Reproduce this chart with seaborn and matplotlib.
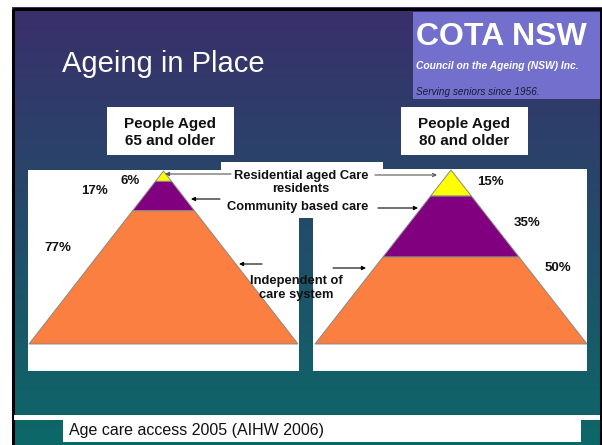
import numpy as np
import seaborn as sns
import matplotlib.pyplot as plt
from matplotlib.patches import Rectangle

# data
tiers = ["Residential aged Care residents", "Community based care", "Independent of care system"]
pct_65 = [6, 17, 77]
pct_80 = [15, 35, 50]
tier_colors = ["#ffff00", "#800080", "#fb7f40"]
group_labels = ["People Aged\n65 and older", "People Aged\n80 and older"]
title = "Ageing in Place"
caption = "Age care access 2005 (AIHW 2006)"

sns.set_theme(style="white")
plt.rcParams["font.family"] = ["Liberation Sans", "DejaVu Sans"]

fig = plt.figure(figsize=(6.02, 4.45), dpi=100)
ax = fig.add_axes([0, 0, 1, 1])
ax.set_xlim(0, 602)
ax.set_ylim(445, 0)
ax.axis("off")

# slide background gradient
top = np.array([58, 47, 107]) / 255
bot = np.array([12, 104, 104]) / 255
t = np.linspace(0, 1, 256)[:, None, None]
grad = top * (1 - t) + bot * t
ax.imshow(grad, extent=[12, 602, 445, 7], aspect="auto", zorder=0)
ax.add_patch(Rectangle((13, 8.5), 588, 440, fill=False, ec="black", lw=2.2, zorder=1))

ax.text(62, 64, title, color="white", fontsize=21, va="center", ha="left", zorder=3)

# COTA box
ax.add_patch(Rectangle((413, 12), 187, 87, fc="#7270cc", ec="none", zorder=2))
ax.text(416, 37, "COTA NSW", color="white", fontsize=23, fontweight="bold",
        va="center", ha="left", zorder=3)
ax.text(416, 66, "Council on the Ageing (NSW) Inc.", color="white", fontsize=7.4,
        fontweight="bold", fontstyle="italic", va="center", ha="left", zorder=3)
ax.text(416, 92, "Serving seniors since 1956.", color="#1a1a33", fontsize=7.2,
        fontstyle="italic", va="center", ha="left", zorder=3)

# panels
ax.add_patch(Rectangle((28, 170), 271, 201, fc="white", ec="none", zorder=2))
ax.add_patch(Rectangle((313, 169), 274, 202, fc="white", ec="none", zorder=2))

# group label boxes
for x0, lab in zip([107, 401], group_labels):
    ax.add_patch(Rectangle((x0, 107), 127, 48, fc="white", ec="none", zorder=2))
    ax.text(x0 + 63.5, 132.5, lab, fontsize=11, fontweight="bold", color="#111111",
            ha="center", va="center", linespacing=1.3, zorder=3)


def pyramid(cx, apex_y, base_y, half_w, pcts):
    h = base_y - apex_y
    cum = np.concatenate([[0], np.cumsum(pcts)]) / 100.0
    for i, c in enumerate(tier_colors):
        y0 = apex_y + h * cum[i]
        y1 = apex_y + h * cum[i + 1]
        w0 = half_w * (y0 - apex_y) / h
        w1 = half_w * (y1 - apex_y) / h
        ax.fill([cx - w0, cx + w0, cx + w1, cx - w1], [y0, y0, y1, y1],
                fc=c, ec="#888888", lw=0.7, zorder=4)


pyramid(163.5, 171, 344, 134.5, pct_65)
pyramid(451, 170, 344, 136, pct_80)

# percentage labels
for (x, y), p in zip([(130, 181), (95, 191), (58, 248)], pct_65):
    ax.text(x, y, f"{p}%", fontsize=9.5, fontweight="bold", color="#111111",
            ha="center", va="center", zorder=5)
for (x, y), p in zip([(490, 182), (527, 223), (558, 268)], pct_80):
    ax.text(x, y, f"{p}%", fontsize=9.5, fontweight="bold", color="#111111",
            ha="center", va="center", zorder=5)

# tier legend box and text
ax.add_patch(Rectangle((221, 162), 162, 56, fc="white", ec="none", zorder=3))
ax.text(301, 182.5, "Residential aged Care\nresidents", fontsize=9.3, fontweight="bold",
        color="#111111", ha="center", va="center", linespacing=1.0, zorder=5)
ax.text(298, 207, tiers[1], fontsize=9.3, fontweight="bold", color="#111111",
        ha="center", va="center", zorder=5)
ax.text(296, 288, "Independent of\ncare system", fontsize=9.3, fontweight="bold",
        color="#111111", ha="center", va="center", linespacing=1.3, zorder=5)

arrows = [((231, 174), (165, 174), "-|>", "#555555"),
          ((375, 175), (437, 175), "->", "#555555"),
          ((220, 199), (191, 199), "-|>", "black"),
          ((378, 208), (418, 208), "-|>", "black"),
          ((262, 264), (239, 264), "-|>", "black"),
          ((333, 268), (366, 268), "-|>", "black")]
for start, end, style, col in arrows:
    ax.annotate("", xy=end, xytext=start, zorder=6,
                arrowprops=dict(arrowstyle=style, color=col, lw=0.8,
                                mutation_scale=6, shrinkA=0, shrinkB=0))

# bottom caption strip
ax.add_patch(Rectangle((14, 415), 586, 5, fc="white", ec="none", zorder=2))
ax.add_patch(Rectangle((63, 415), 518, 27, fc="white", ec="none", zorder=2))
ax.text(69, 431, caption, fontsize=11.5, color="#111111", ha="left", va="center", zorder=3)

fig.savefig("out.png", dpi=100, facecolor="white")
